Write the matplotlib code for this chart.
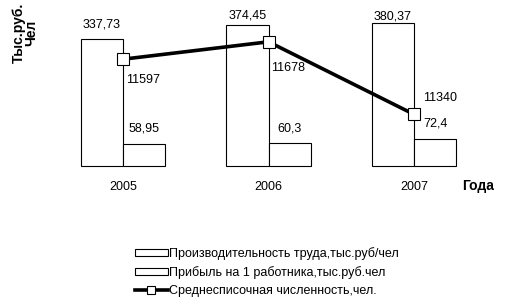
import matplotlib
matplotlib.use("Agg")
import matplotlib.pyplot as plt
import numpy as np

plt.rcParams['font.family'] = ['Liberation Sans', 'DejaVu Sans']

years = ['2005', '2006', '2007']
productivity = [337.73, 374.45, 380.37]      # тыс.руб/чел
profit = [58.95, 60.3, 72.4]                 # тыс.руб на 1 работника
headcount = [11597, 11678, 11340]            # чел.

prod_labels = ['337,73', '374,45', '380,37']
profit_labels = ['58,95', '60,3', '72,4']
head_labels = ['11597', '11678', '11340']

x = np.arange(len(years))
w = 0.29
fs = 9

fig = plt.figure(figsize=(5.11, 3.08), dpi=100)
ax = fig.add_axes([50/511, 1-166/308, 437/511, 150.4/308])
ax2 = ax.twinx()

b1 = ax.bar(x - w, productivity, w, align='edge', color='white', edgecolor='black', linewidth=0.8,
            label='Производительность труда,тыс.руб/чел', clip_on=False)
b2 = ax.bar(x, profit, w, align='edge', color='white', edgecolor='black', linewidth=0.8,
            label='Прибыль на 1 работника,тыс.руб.чел', clip_on=False)
ln, = ax2.plot(x, headcount, color='black', lw=2.6, marker='s', ms=8, mfc='white', mec='black', mew=0.8,
               label='Среднесписочная численность,чел.')

ax.set_xlim(-0.5, 2.5)
ax.set_ylim(0, 400)
ax2.set_ylim(11100, 11800)

for a in (ax, ax2):
    for s in a.spines.values():
        s.set_visible(False)
    a.set_yticks([])
ax.set_xticks(x)
ax.set_xticklabels(years, fontsize=fs)
ax.tick_params(axis='x', length=0, pad=11)

# value labels
prod_off = [(0, 15), (0, 10), (0, 6)]
for i in range(len(years)):
    ax.annotate(prod_labels[i], (x[i] - w/2, productivity[i]), xytext=prod_off[i],
                textcoords='offset pixels', ha='center', va='center', fontsize=fs)
    ax.annotate(profit_labels[i], (x[i] + w/2, profit[i]), xytext=(0, 15),
                textcoords='offset pixels', ha='center', va='center', fontsize=fs)
head_off = [(3, -21), (3, -26), (9, 16)]
for i in range(len(years)):
    ax2.annotate(head_labels[i], (x[i], headcount[i]), xytext=head_off[i],
                 textcoords='offset pixels', ha='left', va='center', fontsize=fs)

fig.text(25/511, 1-33/308, 'Тыс.руб.\nЧел', rotation=90, ha='center', va='center',
         fontsize=10, fontweight='bold', linespacing=0.9)
fig.text(478/511, 1-186/308, 'Года', ha='center', va='center', fontsize=10, fontweight='bold')

fig.legend(handles=[b1, b2, ln], loc='upper left', bbox_to_anchor=(135/511, 1-247/308),
           frameon=False, fontsize=fs, handlelength=2.6, handleheight=0.45, handletextpad=0.15,
           labelspacing=0.5, borderpad=0, borderaxespad=0, markerscale=0.75)

fig.savefig('out.png', dpi=100)
